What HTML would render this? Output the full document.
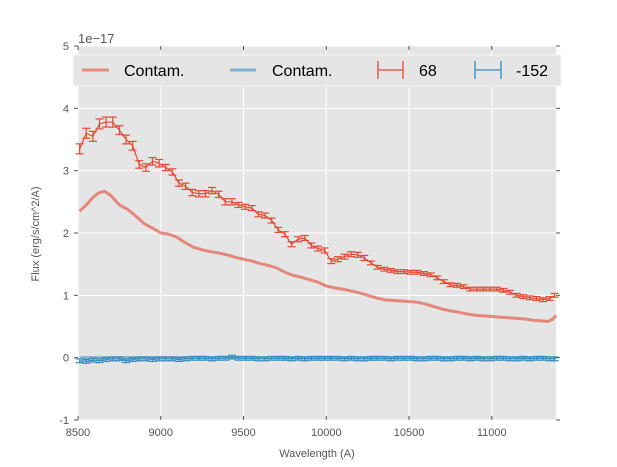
<!DOCTYPE html>
<html><head><meta charset="utf-8"><style>
body{margin:0;background:#fff;}
svg{display:block;font-family:"Liberation Sans",sans-serif;}
</style></head><body>
<svg id="chart" width="617" height="467">
<rect x="78" y="46" width="478" height="374" fill="#e5e5e5"/>
<g id="grid"></g>
<g id="series"></g>
<g id="axes"></g>
<text x="78" y="43" font-size="13" fill="#555">1e−17</text>
<text x="39" y="234" font-size="11" fill="#555" text-anchor="middle" transform="rotate(-90 39 234)">Flux (erg/s/cm^2/A)</text>
<text x="317" y="457" font-size="11" fill="#555" text-anchor="middle">Wavelength (A)</text>
<g>
<rect x="73" y="55" width="488" height="31" fill="#e5e5e5" stroke="#f4f4f4" stroke-width="1"/>
<line x1="82" y1="70" x2="109" y2="70" stroke="#e8897b" stroke-width="3"/>
<text x="124" y="76" font-size="16" fill="#000">Contam.</text>
<line x1="230" y1="70" x2="256" y2="70" stroke="#7fb0d3" stroke-width="3"/>
<text x="272" y="76" font-size="16" fill="#000">Contam.</text>
<g stroke="#e24a33" stroke-width="1.3"><line x1="378" y1="70" x2="403" y2="70"/><line x1="378" y1="61" x2="378" y2="79"/><line x1="403" y1="61" x2="403" y2="79"/></g>
<text x="419" y="76" font-size="16" fill="#000">68</text>
<g stroke="#348abd" stroke-width="1.3"><line x1="475" y1="70" x2="501" y2="70"/><line x1="475" y1="61" x2="475" y2="79"/><line x1="501" y1="61" x2="501" y2="79"/></g>
<text x="516" y="76" font-size="16" fill="#000">-152</text>
</g>
</svg>
<script>
const xTicks=[8500,9000,9500,10000,10500,11000];
const yTicks=[-1,0,1,2,3,4,5];
const redWave=[8510,8550,8590,8630,8670,8710,8750,8790,8830,8870,8910,8950,8990,9030,9070,9110,9150,9190,9230,9270,9310,9350,9390,9430,9470,9510,9550,9590,9630,9670,9710,9750,9790,9830,9870,9910,9950,9990,10030,10070,10110,10150,10190,10230,10270,10310,10350,10390,10430,10470,10510,10550,10590,10630,10670,10710,10750,10790,10830,10870,10910,10950,10990,11030,11070,11110,11150,11190,11230,11270,11310,11350,11380];
const redFlux=[3.35,3.6,3.55,3.75,3.78,3.78,3.65,3.5,3.4,3.1,3.05,3.15,3.12,3.05,2.98,2.8,2.75,2.65,2.63,2.63,2.68,2.62,2.5,2.5,2.45,2.42,2.4,2.3,2.28,2.2,2.05,1.98,1.82,1.9,1.92,1.8,1.75,1.72,1.55,1.58,1.62,1.66,1.65,1.6,1.52,1.45,1.42,1.4,1.38,1.38,1.37,1.37,1.35,1.33,1.28,1.22,1.17,1.16,1.14,1.1,1.1,1.1,1.1,1.1,1.08,1.05,1.0,0.98,0.96,0.95,0.93,0.95,1.0];
const redErr=[0.08,0.08,0.08,0.08,0.08,0.08,0.07,0.07,0.07,0.06,0.06,0.06,0.06,0.05,0.05,0.05,0.05,0.05,0.05,0.05,0.05,0.05,0.05,0.05,0.04,0.04,0.04,0.04,0.04,0.04,0.04,0.04,0.04,0.04,0.04,0.04,0.04,0.04,0.04,0.04,0.04,0.04,0.04,0.04,0.03,0.03,0.03,0.03,0.03,0.03,0.03,0.03,0.03,0.03,0.03,0.03,0.03,0.03,0.03,0.03,0.03,0.03,0.03,0.03,0.03,0.03,0.03,0.03,0.03,0.03,0.03,0.03,0.03];
const blueFlux=[-0.05,-0.06,-0.04,-0.05,-0.03,-0.02,-0.02,-0.05,-0.03,-0.02,-0.02,-0.03,-0.02,-0.02,-0.02,-0.03,-0.02,-0.01,-0.01,-0.01,-0.02,-0.01,-0.01,0.01,-0.01,-0.01,-0.01,-0.02,-0.02,-0.01,-0.01,-0.01,-0.02,-0.01,-0.02,-0.01,-0.01,-0.01,-0.01,-0.01,-0.02,-0.01,-0.02,-0.02,-0.01,-0.01,-0.01,-0.02,-0.01,-0.01,-0.01,-0.02,-0.02,-0.01,-0.01,-0.02,-0.02,-0.01,-0.01,-0.02,-0.01,-0.02,-0.02,-0.01,-0.01,-0.02,-0.02,-0.01,-0.02,-0.01,-0.01,-0.02,-0.02];
const blueErr=0.03;
const contamWave=[8510,8550,8590,8630,8660,8700,8750,8800,8850,8900,8950,9000,9050,9100,9150,9200,9250,9300,9350,9400,9450,9500,9550,9600,9650,9700,9750,9800,9850,9900,9950,10000,10050,10100,10150,10200,10250,10300,10350,10400,10450,10500,10550,10600,10650,10700,10750,10800,10850,10900,10950,11000,11050,11100,11150,11200,11250,11300,11340,11370,11390];
const contamRed=[2.35,2.45,2.57,2.65,2.67,2.6,2.45,2.38,2.27,2.15,2.08,2.0,1.98,1.93,1.84,1.77,1.73,1.7,1.68,1.65,1.61,1.58,1.55,1.51,1.48,1.44,1.37,1.32,1.29,1.25,1.21,1.15,1.12,1.1,1.07,1.04,1.0,0.96,0.93,0.92,0.91,0.9,0.89,0.86,0.82,0.78,0.75,0.73,0.7,0.68,0.67,0.66,0.65,0.64,0.63,0.62,0.6,0.59,0.58,0.62,0.68];
const contamBlue=[0.0,0.0,0.0,0.0,0.0,0.0,0.0,0.0,0.0,0.0,0.0,0.0,0.0,0.0,0.0,0.0,0.0,0.0,0.0,0.0,0.0,0.0,0.0,0.0,0.0,0.0,0.0,0.0,0.0,0.0,0.0,0.0,0.0,0.0,0.0,0.0,0.0,0.0,0.0,0.0,0.0,0.0,0.0,0.0,0.0,0.0,0.0,0.0,0.0,0.0,0.0,0.0,0.0,0.0,0.0,0.0,0.0,0.0,0.0,0.0,0.0];

const X0=78,X1=556,Y0=46,Y1=420,XMIN=8500,XMAX=11388,YMIN=-1,YMAX=5;
function sx(v){return X0+(v-XMIN)/(XMAX-XMIN)*(X1-X0);}
function sy(v){return Y1-(v-YMIN)/(YMAX-YMIN)*(Y1-Y0);}
const NS='http://www.w3.org/2000/svg';
function mk(tag,attrs,parent){const e=document.createElementNS(NS,tag);for(const k in attrs)e.setAttribute(k,attrs[k]);parent.appendChild(e);return e;}
const grid=document.getElementById('grid'),axes=document.getElementById('axes'),ser=document.getElementById('series');
xTicks.forEach(t=>{const x=sx(t);
 const g=mk('line',{x1:x,x2:x,y1:Y0,y2:Y1,stroke:'#fff','stroke-width':1},grid);
 
 
 mk('line',{x1:x,x2:x,y1:Y1,y2:Y1-4,stroke:'#555'},axes);
 mk('line',{x1:x,x2:x,y1:Y0,y2:Y0+4,stroke:'#555'},axes);
 const tx=mk('text',{x:x,y:Y1+16,'font-size':11,fill:'#555','text-anchor':'middle'},axes);tx.textContent=t;
 
 
});
yTicks.forEach(t=>{const y=sy(t);
 const g=mk('line',{x1:X0,x2:X1,y1:y,y2:y,stroke:'#fff','stroke-width':1},grid);
 
 
 mk('line',{x1:X0-4,x2:X0,y1:y,y2:y,stroke:'#555'},axes);
 mk('line',{x1:X1,x2:X1+4,y1:y,y2:y,stroke:'#555'},axes);
 const tx=mk('text',{x:X0-9,y:y+4,'font-size':11,fill:'#555','text-anchor':'end'},axes);tx.textContent=t;
 
 
});
function line(xs,ys,color,w,op,name){
 const p=mk('polyline',{points:xs.map((x,i)=>sx(x)+','+sy(ys[i])).join(' '),fill:'none',stroke:color,'stroke-width':w,'stroke-opacity':op,'stroke-linejoin':'round'},ser);
 
 
}
line(contamWave,contamRed,'#e24a33',3,0.6,'contam-red-line');
line(contamWave,contamBlue,'#348abd',3,0.6,'contam-blue-line');
function errs(xs,ys,es,color,name){
 const g=mk('g',{stroke:color,'stroke-width':1.2},ser);
 
 
 xs.forEach((w,i)=>{const x=sx(w),e=Array.isArray(es)?es[i]:es;const a=sy(ys[i]+e),b=sy(ys[i]-e);
  mk('line',{x1:x,x2:x,y1:a,y2:b},g);mk('line',{x1:x-4,x2:x+4,y1:a,y2:a},g);mk('line',{x1:x-4,x2:x+4,y1:b,y2:b},g);});
 mk('polyline',{points:xs.map((x,i)=>sx(x)+','+sy(ys[i])).join(' '),fill:'none'},g);
}
errs(redWave,redFlux,redErr,'#e24a33','errorbar-68');
errs(redWave,blueFlux,blueErr,'#348abd','errorbar-minus152');
</script>
</body></html>
